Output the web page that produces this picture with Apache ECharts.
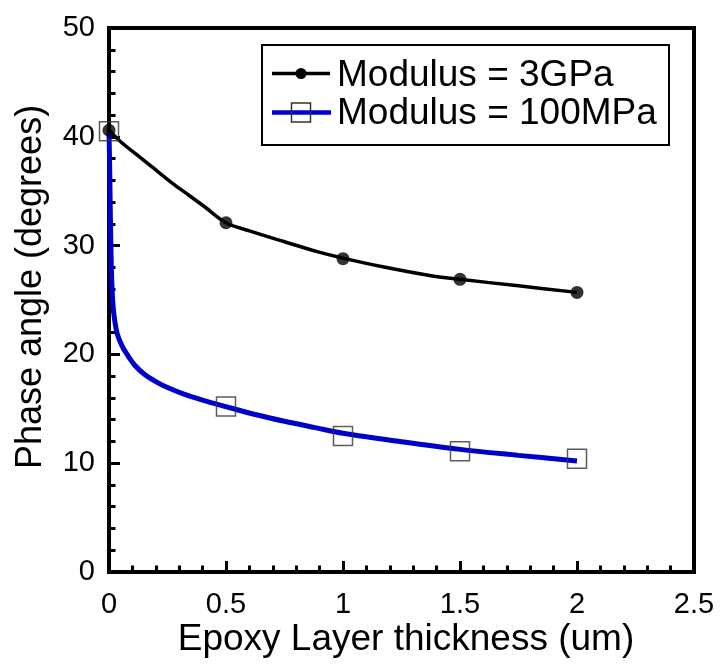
<!DOCTYPE html>
<html>
<head>
<meta charset="utf-8">
<script src="https://cdn.jsdelivr.net/npm/echarts@6/dist/echarts.min.js"></script>
<style>
    html, body { margin: 0; padding: 0; background: #fff; }
    #chartDiv { width: 723px; height: 667px; }
</style>
</head>
<body>
<div id="chartDiv"></div>
<script>
    // 测量点 (Modulus = 3GPa / 100MPa)
    var thickness = [0, 0.5, 1, 1.5, 2];
    var phase3GPa = [40.6, 32.1, 28.8, 26.9, 25.7];
    var phase100MPa = [40.5, 15.2, 12.5, 11.1, 10.4];

    // 拟合曲线
    var fit3GPaX = [0, 0.05, 0.125, 0.2, 0.27, 0.34, 0.41, 0.5, 0.6, 0.75, 0.89, 1.0, 1.17, 1.37, 1.5, 1.75, 2.0];
    var fit3GPaY = [40.6, 39.55, 38.25, 36.95, 35.75, 34.65, 33.55, 32.1, 31.35, 30.35, 29.45, 28.85, 28.05, 27.25, 26.9, 26.3, 25.7];
    var fit100MPaX = [0, 0.003, 0.006, 0.01, 0.015, 0.022, 0.035, 0.055, 0.08, 0.11, 0.15, 0.2, 0.25, 0.32, 0.4, 0.5, 0.62, 0.75, 0.88, 1.0, 1.25, 1.5, 1.75, 2.0];
    var fit100MPaY = [40.5, 37, 32.5, 28, 25.2, 23.5, 21.9, 20.8, 19.9, 19.0, 18.2, 17.5, 16.95, 16.35, 15.8, 15.2, 14.5, 13.85, 13.27, 12.75, 11.97, 11.27, 10.72, 10.2];

    var xTicks = ['0', '0.5', '1', '1.5', '2', '2.5'];
    var legendNames = ['Modulus = 3GPa', 'Modulus = 100MPa'];

    var blue = '#0000cc';
    var font = 'Arial, "Liberation Sans", sans-serif';

    function pairs(xs, ys) {
        return xs.map(function (x, i) { return [x, ys[i]]; });
    }

    var chart = echarts.init(document.getElementById('chartDiv'), null, {renderer: 'canvas'});

    var option = {
        animation: false,
        backgroundColor: '#fff',
        grid: {
            left: 109, right: 29, top: 28, bottom: 95,
            show: true, borderColor: '#000', borderWidth: 4, backgroundColor: 'transparent'
        },
        xAxis: {
            type: 'value', min: 0, max: 2.5, interval: 0.5,
            axisLine: {show: true, lineStyle: {color: '#000', width: 4}},
            axisTick: {show: true, inside: true, length: 11, lineStyle: {color: '#000', width: 3}},
            minorTick: {show: true, splitNumber: 5, length: 6.5, lineStyle: {color: '#000', width: 3}},
            splitLine: {show: false},
            axisLabel: {
                margin: 18, color: '#000', fontSize: 29, fontFamily: font,
                formatter: function (v) { return xTicks[Math.round(v / 0.5)]; }
            }
        },
        yAxis: {
            type: 'value', min: 0, max: 50, interval: 10,
            axisLine: {show: true, lineStyle: {color: '#000', width: 4}},
            axisTick: {show: true, inside: true, length: 11, lineStyle: {color: '#000', width: 3}},
            minorTick: {show: true, splitNumber: 5, length: 6.5, lineStyle: {color: '#000', width: 3}},
            splitLine: {show: false},
            axisLabel: {margin: 14, color: '#000', fontSize: 29, fontFamily: font}
        },
        series: [
            {
                name: legendNames[0], type: 'line', data: pairs(fit3GPaX, fit3GPaY),
                smooth: 0.35, showSymbol: false,
                lineStyle: {color: '#000', width: 3.5}, z: 2
            },
            {
                name: legendNames[1], type: 'line', data: pairs(fit100MPaX, fit100MPaY),
                smooth: 0.35, showSymbol: false,
                lineStyle: {color: blue, width: 5}, z: 2
            },
            {
                type: 'scatter', data: pairs(thickness, phase3GPa),
                symbol: 'circle', symbolSize: 13,
                itemStyle: {color: '#000'}, z: 4
            },
            {
                type: 'scatter', data: pairs(thickness, phase100MPa),
                symbol: 'rect', symbolSize: 19,
                itemStyle: {color: 'rgba(255,255,255,0)', borderColor: '#333', borderWidth: 1.5}, z: 3
            }
        ],
        graphic: [
            // 轴标题
            {
                type: 'text', x: 406, y: 640,
                style: {text: 'Epoxy Layer thickness (um)', fill: '#000', font: '37px ' + font, textAlign: 'center', textVerticalAlign: 'middle'}
            },
            {
                type: 'text', x: 31, y: 287, rotation: Math.PI / 2,
                style: {text: 'Phase angle (degrees)', fill: '#000', font: '36px ' + font, textAlign: 'center', textVerticalAlign: 'middle'}
            },
            // 图例
            {
                type: 'rect', shape: {x: 262, y: 45, width: 407, height: 100},
                style: {fill: '#fff', stroke: '#000', lineWidth: 2}, z: 10
            },
            {
                type: 'line', shape: {x1: 272, y1: 73.5, x2: 330, y2: 73.5},
                style: {stroke: '#000', lineWidth: 3.5}, z: 11
            },
            {
                type: 'circle', shape: {cx: 301, cy: 73.5, r: 5.5},
                style: {fill: '#000'}, z: 12
            },
            {
                type: 'line', shape: {x1: 272, y1: 112.5, x2: 331, y2: 112.5},
                style: {stroke: blue, lineWidth: 4.5}, z: 11
            },
            {
                type: 'rect', shape: {x: 291.5, y: 103, width: 19, height: 19},
                style: {fill: 'rgba(255,255,255,0)', stroke: '#333', lineWidth: 1.5}, z: 12
            },
            {
                type: 'text', x: 337, y: 76, z: 12,
                style: {text: legendNames[0], fill: '#000', font: '37px ' + font, textAlign: 'left', textVerticalAlign: 'middle'}
            },
            {
                type: 'text', x: 337, y: 114, z: 12,
                style: {text: legendNames[1], fill: '#000', font: '37px ' + font, textAlign: 'left', textVerticalAlign: 'middle'}
            }
        ]
    };
    chart.setOption(option);
</script>
</body>
</html>
